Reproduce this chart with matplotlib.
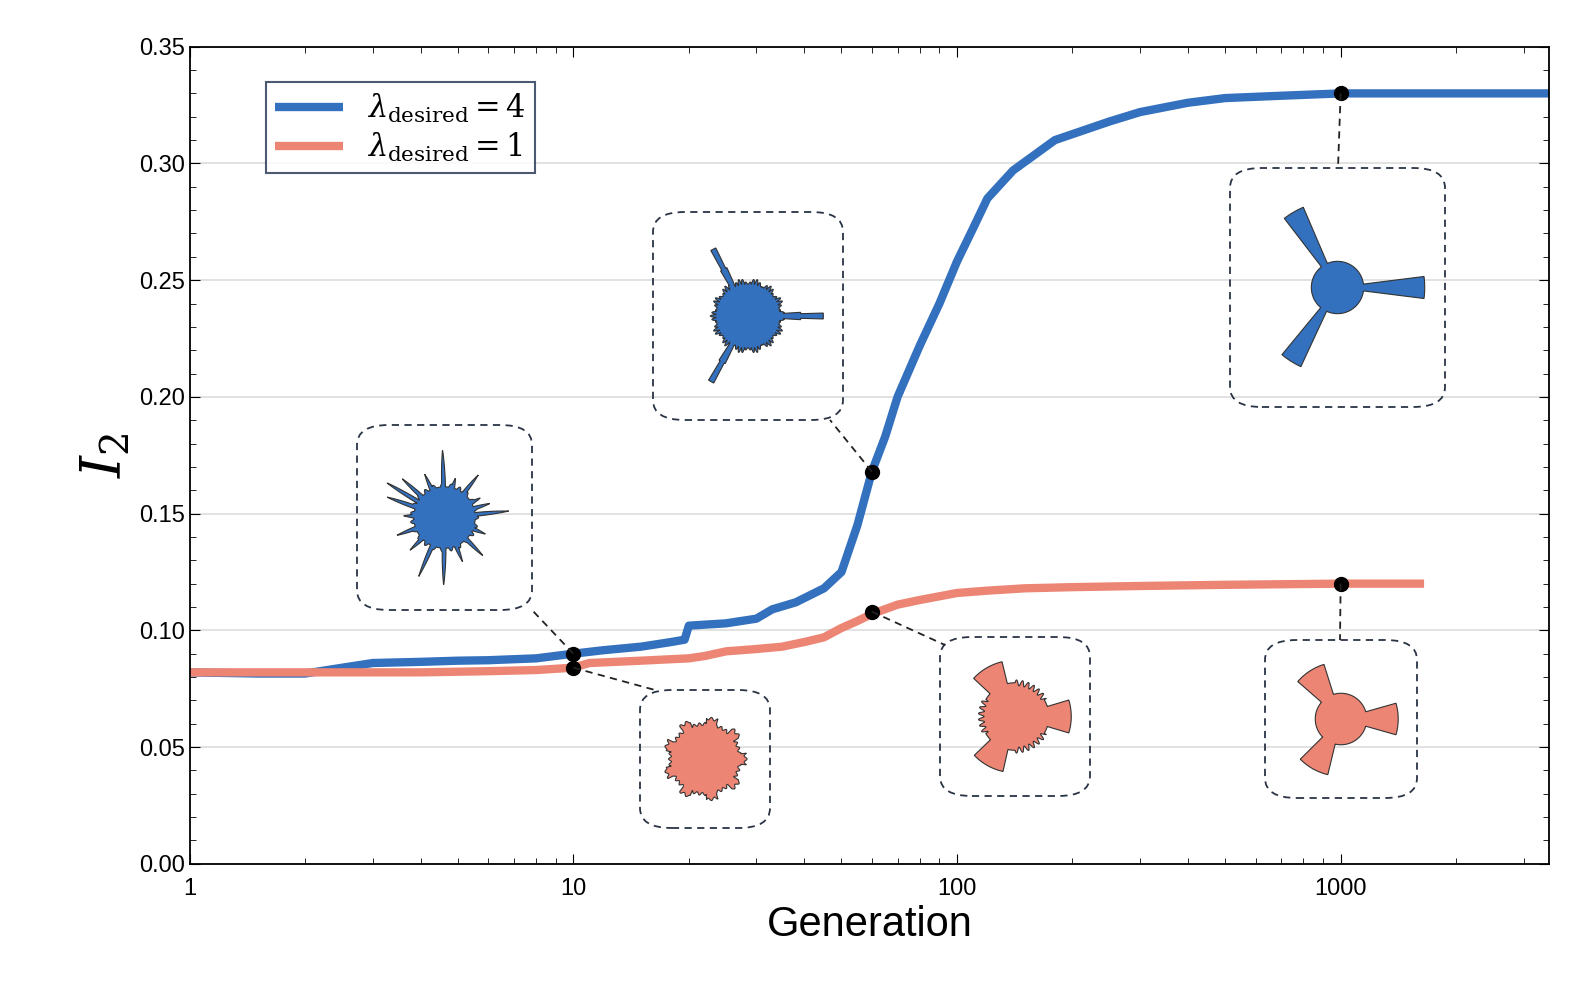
import numpy as np
import matplotlib.pyplot as plt
from matplotlib.patches import FancyBboxPatch, Polygon

plt.rcParams['font.family'] = ['Liberation Sans', 'DejaVu Sans']
plt.rcParams['mathtext.fontset'] = 'dejavuserif'

# data
gen_blue = [1, 1.5, 2, 2.5, 3, 4, 5, 6, 8, 10, 12, 15, 18, 19.5, 20, 25, 30, 33, 38, 45, 50, 55, 60, 65, 70, 80, 90, 100, 110, 120, 140, 180, 250, 300, 400, 500, 700, 1000, 2000, 3500]
i2_blue = [0.082, 0.0815, 0.0815, 0.084, 0.086, 0.0865, 0.087, 0.0872, 0.088, 0.090, 0.0915, 0.093, 0.095, 0.096, 0.102, 0.103, 0.105, 0.109, 0.112, 0.118, 0.125, 0.145, 0.168, 0.183, 0.200, 0.222, 0.240, 0.258, 0.272, 0.285, 0.297, 0.310, 0.318, 0.322, 0.326, 0.328, 0.329, 0.330, 0.330, 0.330]
gen_red = [1, 2, 4, 6, 8, 10, 11, 15, 20, 22, 25, 30, 35, 40, 45, 50, 55, 60, 70, 80, 100, 120, 150, 200, 300, 500, 1000, 1650]
i2_red = [0.082, 0.082, 0.082, 0.0825, 0.083, 0.084, 0.086, 0.087, 0.088, 0.089, 0.091, 0.092, 0.093, 0.095, 0.097, 0.101, 0.104, 0.107, 0.111, 0.113, 0.116, 0.117, 0.118, 0.1185, 0.119, 0.1195, 0.120, 0.120]
marked = [(10, 0.090), (60, 0.168), (1000, 0.330), (10, 0.084), (60, 0.108), (1000, 0.120)]

blue = '#3370be'
red = '#ec8574'

fig = plt.figure(figsize=(15.94, 9.94), dpi=100)
ax = fig.add_axes([0.119, 0.131, 0.853, 0.822])
ax.plot(gen_blue, i2_blue, color=blue, lw=6, label=r'$\lambda_{\mathrm{desired}}=4$', solid_capstyle='butt')
ax.plot(gen_red, i2_red, color=red, lw=6, label=r'$\lambda_{\mathrm{desired}}=1$', solid_capstyle='butt')
ax.set_xscale('log')
ax.set_xlim(1, 3500)
ax.set_ylim(0, 0.35)
ax.set_yticks(np.arange(0, 0.351, 0.05))
ax.set_yticklabels([f'{v:.2f}' for v in np.arange(0, 0.351, 0.05)])
ax.set_xticks([1, 10, 100, 1000])
ax.set_xticklabels(['1', '10', '100', '1000'])
ax.yaxis.set_minor_locator(plt.MultipleLocator(0.01))
ax.tick_params(which='both', direction='in', top=True, right=True, labelsize=17)
ax.tick_params(which='major', length=7)
ax.tick_params(which='minor', length=4)
ax.tick_params(axis='x', pad=10)
ax.grid(axis='y', color='#dddddd', lw=1.2)
ax.set_axisbelow(True)
for s in ax.spines.values():
    s.set_linewidth(1.3)
ax.set_xlabel('Generation', fontsize=30)
ax.set_ylabel(r'$I_2$', fontsize=40)
leg = ax.legend(loc='upper left', bbox_to_anchor=(0.045, 0.975), fancybox=False,
                edgecolor='#1f2f4f', handlelength=2.2, borderpad=0.3, labelspacing=0.2,
                prop={'family': 'DejaVu Serif', 'size': 22})
leg.get_frame().set_linewidth(1.5)
for x, y in marked:
    ax.plot(x, y, 'o', color='black', ms=10, zorder=5)

W, H = 1594, 994


def arms(th, r, angles, half, length):
    for a in angles:
        d = np.angle(np.exp(1j * (th - a)))
        r = np.maximum(r, (abs(d) < half) * length)
    return r


def shape(kind):
    th = np.linspace(0, 2 * np.pi, 1440)
    if kind == 'spiky':
        r = 0.45 + 0.05 * np.cos(23 * th)
        spikes = [(0.1, 0.95), (0.5, 0.6), (0.9, 0.8), (1.3, 0.6), (1.6, 1.0), (2.0, 0.7), (2.4, 0.85),
                  (2.8, 0.9), (3.1, 0.6), (3.5, 0.75), (3.9, 0.7), (4.3, 0.95), (4.7, 1.0), (5.1, 0.7),
                  (5.5, 0.8), (5.9, 0.65), (2.6, 1.0), (0.3, 0.7)]
        for a, L in spikes:
            d = np.angle(np.exp(1j * (th - a)))
            r = np.maximum(r, 0.45 + (L - 0.45) * np.clip(1 - abs(d) / 0.06, 0, 1))
    elif kind == 'tri_spiky':
        r = 0.42 + 0.08 * np.abs(np.cos(31 * th)) * np.abs(np.cos(7 * th))
        r = arms(th, r, [0.0, 2.05, 4.2], 0.07, 0.7)
        r = arms(th, r, [0.0, 2.05, 4.2], 0.04, 1.0)
    elif kind == 'tripod':
        r = np.full_like(th, 0.3)
        r = arms(th, r, [0.0, 2.1, 4.15], 0.13, 1.0)
    elif kind == 'gear':
        r = 0.75 + 0.12 * (np.cos(9 * th) > 0.3) + 0.03 * np.cos(40 * th)
    elif kind == 'red_tri':
        r = 0.6 + 0.05 * np.cos(37 * th) * (np.cos(3 * th) < 0)
        r = arms(th, r, [0.0, 2.1, 4.2], 0.3, 1.0)
    else:  # red tripod
        r = np.full_like(th, 0.45)
        r = arms(th, r, [0.0, 2.15, 4.2], 0.28, 1.0)
    return np.column_stack([r * np.cos(th), r * np.sin(th)])


insets = [  # (x0, y0, x1, y1) pixels, kind, colour, anchor pixel on box
    ((357, 425, 532, 610), 'spiky', blue, (532, 610)),
    ((653, 212, 843, 420), 'tri_spiky', blue, (830, 420)),
    ((1230, 168, 1445, 407), 'tripod', blue, (1338, 168)),
    ((640, 690, 770, 828), 'gear', red, (655, 690)),
    ((940, 637, 1090, 796), 'red_tri', red, (945, 645)),
    ((1265, 640, 1417, 798), 'red_tri2', red, (1340, 640)),
]
for (x0, y0, x1, y1), kind, col, anc in insets:
    fx0, fx1 = x0 / W, x1 / W
    fy0, fy1 = 1 - y1 / H, 1 - y0 / H
    box = FancyBboxPatch((fx0, fy0), fx1 - fx0, fy1 - fy0, boxstyle='round,pad=0,rounding_size=0.02',
                         transform=fig.transFigure, fill=False, ls=(0, (4, 3)), lw=1.3, ec='#2a3445')
    fig.patches.append(box)
    pad = 0.01
    iax = fig.add_axes([fx0 + pad, fy0 + pad * 1.6, fx1 - fx0 - 2 * pad, fy1 - fy0 - 3.2 * pad])
    iax.add_patch(Polygon(shape(kind), closed=True, fc=col, ec='#333333', lw=0.8))
    iax.set_xlim(-1.05, 1.05)
    iax.set_ylim(-1.05, 1.05)
    iax.set_aspect('equal')
    iax.axis('off')

for (x, y), (_, _, _, anc) in zip(marked, insets):
    px, py = ax.transData.transform((x, y))
    fxp, fyp = fig.transFigure.inverted().transform((px, py))
    fig.add_artist(plt.Line2D([fxp, anc[0] / W], [fyp, 1 - anc[1] / H], transform=fig.transFigure,
                              color='#222222', ls=(0, (4, 3)), lw=1.3))

fig.savefig('out.png', dpi=100)
